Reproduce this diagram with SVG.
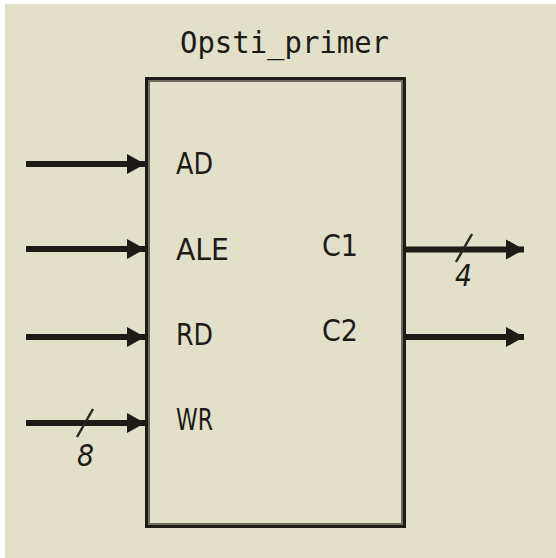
<svg xmlns="http://www.w3.org/2000/svg" width="556" height="558" viewBox="0 0 556 558">
<style>
.lbl{font-family:"DejaVu Sans","Liberation Sans",sans-serif;font-size:31px;fill:#1e1a18}
.num{font-family:"DejaVu Sans","Liberation Sans",sans-serif;font-size:30px;font-style:italic;fill:#1e1a18}
.title{font-family:"DejaVu Sans Mono","Liberation Mono",monospace;font-size:30px;fill:#1e1a18}
.wire{stroke:#1e1a18;stroke-width:6;fill:none}
.slash{stroke:#2a2622;stroke-width:2.5;fill:none}
</style>
<defs>
<marker id="ah" markerUnits="userSpaceOnUse" markerWidth="18" markerHeight="22" refX="18" refY="11" orient="auto" viewBox="0 0 18 22">
<path d="M0,1 L18,11 L0,21 Z" fill="#1e1a18"/>
</marker>
</defs>
<rect x="0" y="0" width="556" height="558" fill="#ffffff"/>
<rect x="5" y="4" width="551" height="554" fill="#e2e0c8"/>
<g id="block">
<rect x="146.5" y="78.5" width="258" height="448" fill="none" stroke="#1e1a18" stroke-width="3"/>
<rect x="149" y="81" width="253" height="443" fill="none" stroke="#6e6a5e" stroke-width="2"/>
<text class="title" x="180" y="53" textLength="209" lengthAdjust="spacingAndGlyphs">Opsti_primer</text>
<text class="lbl" x="176" y="174" textLength="37" lengthAdjust="spacingAndGlyphs">AD</text>
<text class="lbl" x="176" y="260" textLength="53" lengthAdjust="spacingAndGlyphs">ALE</text>
<text class="lbl" x="176" y="345" textLength="37" lengthAdjust="spacingAndGlyphs">RD</text>
<text class="lbl" x="176" y="430" textLength="37" lengthAdjust="spacingAndGlyphs">WR</text>
<text class="lbl" x="322" y="256" textLength="36" lengthAdjust="spacingAndGlyphs">C1</text>
<text class="lbl" x="322" y="341" textLength="36" lengthAdjust="spacingAndGlyphs">C2</text>
</g>
<g id="connectors">
<line class="wire" x1="26" y1="164" x2="145" y2="164" marker-end="url(#ah)"/>
<line class="wire" x1="26" y1="249" x2="145" y2="249" marker-end="url(#ah)"/>
<line class="wire" x1="26" y1="337" x2="145" y2="337" marker-end="url(#ah)"/>
<line class="wire" x1="26" y1="423" x2="145" y2="423" marker-end="url(#ah)"/>
<line class="wire" x1="404" y1="249.5" x2="524" y2="249.5" marker-end="url(#ah)"/>
<line class="wire" x1="404" y1="337" x2="524" y2="337" marker-end="url(#ah)"/>
<line class="slash" x1="77" y1="437" x2="93" y2="409"/>
<line class="slash" x1="456" y1="262" x2="472" y2="234"/>
<text class="num" x="77" y="466" textLength="17" lengthAdjust="spacingAndGlyphs">8</text>
<text class="num" x="455" y="286" textLength="17" lengthAdjust="spacingAndGlyphs">4</text>
</g>
</svg>
